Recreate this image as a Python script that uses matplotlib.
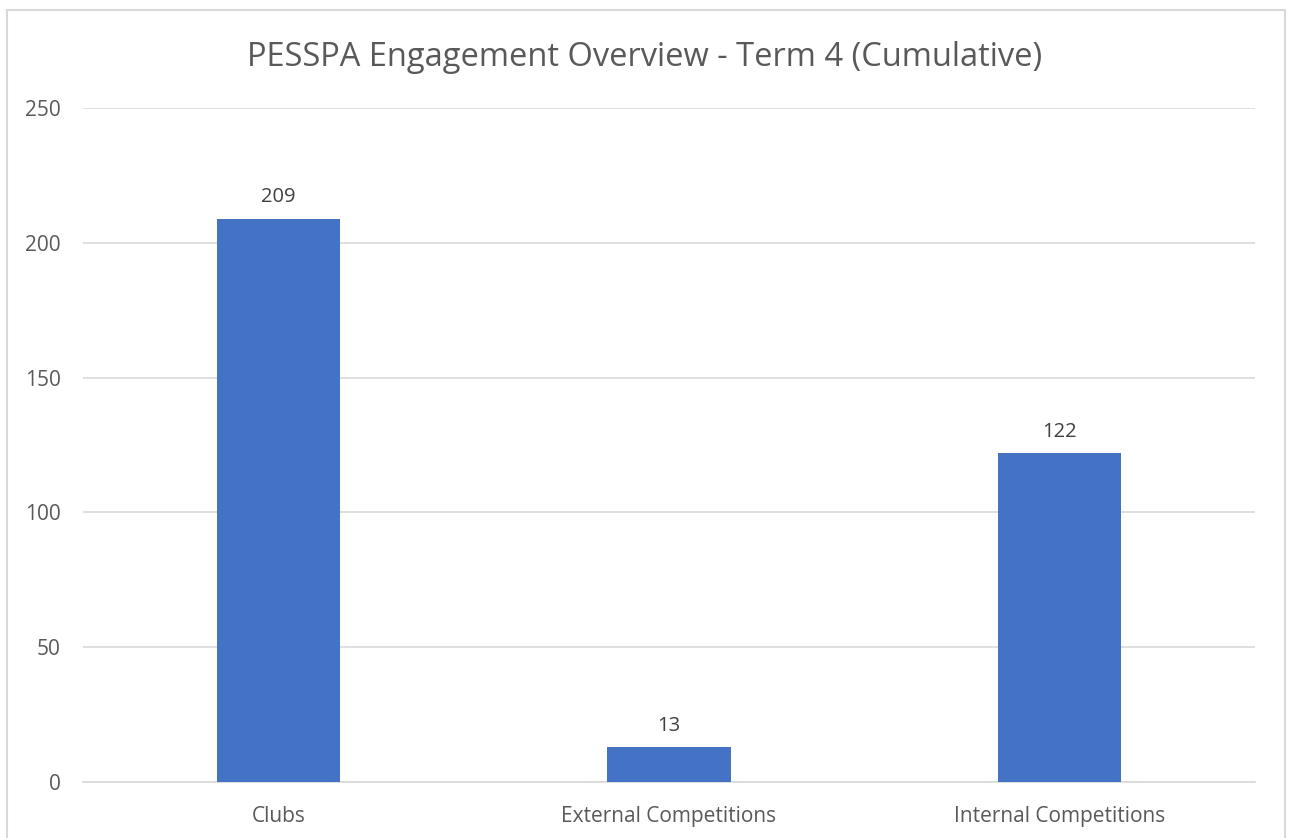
"""PESSPA engagement bar chart"""

import matplotlib

matplotlib.use("Agg")
import matplotlib.pyplot as plt
from matplotlib.patches import Rectangle

categories = ["Clubs", "External Competitions", "Internal Competitions"]
values = [209, 13, 122]
y_ticks = [0, 50, 100, 150, 200, 250]

BAR_COLOR = "#4472C4"
TEXT_GRAY = "#595959"
GRID_GRAY = "#D9D9D9"

plt.rcParams["font.family"] = ["Open Sans", "DejaVu Sans"]

fig = plt.figure(figsize=(12.9, 8.38), dpi=100)
ax = fig.add_axes([83 / 1290, 1 - 782 / 838, (1255 - 83) / 1290, (782 - 108) / 838])

x = list(range(len(categories)))
ax.bar(x, values, width=0.315, color=BAR_COLOR, zorder=3)

for xi, v in zip(x, values):
    ax.annotate(str(v), (xi, v), xytext=(0, 8), textcoords="offset points",
                ha="center", va="bottom", fontsize=14.5, color="#404040")

ax.set_xlim(-0.5, len(categories) - 0.5)
ax.set_ylim(0, 250)
ax.set_yticks(y_ticks)
ax.set_xticks(x)
ax.set_xticklabels(categories)
ax.tick_params(axis="both", length=0, colors=TEXT_GRAY, labelsize=15)
ax.tick_params(axis="y", pad=16)
ax.tick_params(axis="x", pad=17)
ax.grid(axis="y", color=GRID_GRAY, linewidth=1.2, zorder=0)
for side in ["top", "right", "left"]:
    ax.spines[side].set_visible(False)
ax.spines["bottom"].set_color(GRID_GRAY)
ax.spines["bottom"].set_linewidth(1.2)

fig.text(0.5, 1 - 57 / 838, "PESSPA Engagement Overview - Term 4 (Cumulative)",
         ha="center", va="center", fontsize=23.5, color=TEXT_GRAY)

# chart area border (bottom edge is cut off in the original)
fig.patches.append(Rectangle((7 / 1290, -0.02), (1285 - 7) / 1290, (838 - 10) / 838 + 0.02,
                             transform=fig.transFigure, fill=False,
                             edgecolor=GRID_GRAY, linewidth=1.5))

fig.savefig("out.png", dpi=100)
